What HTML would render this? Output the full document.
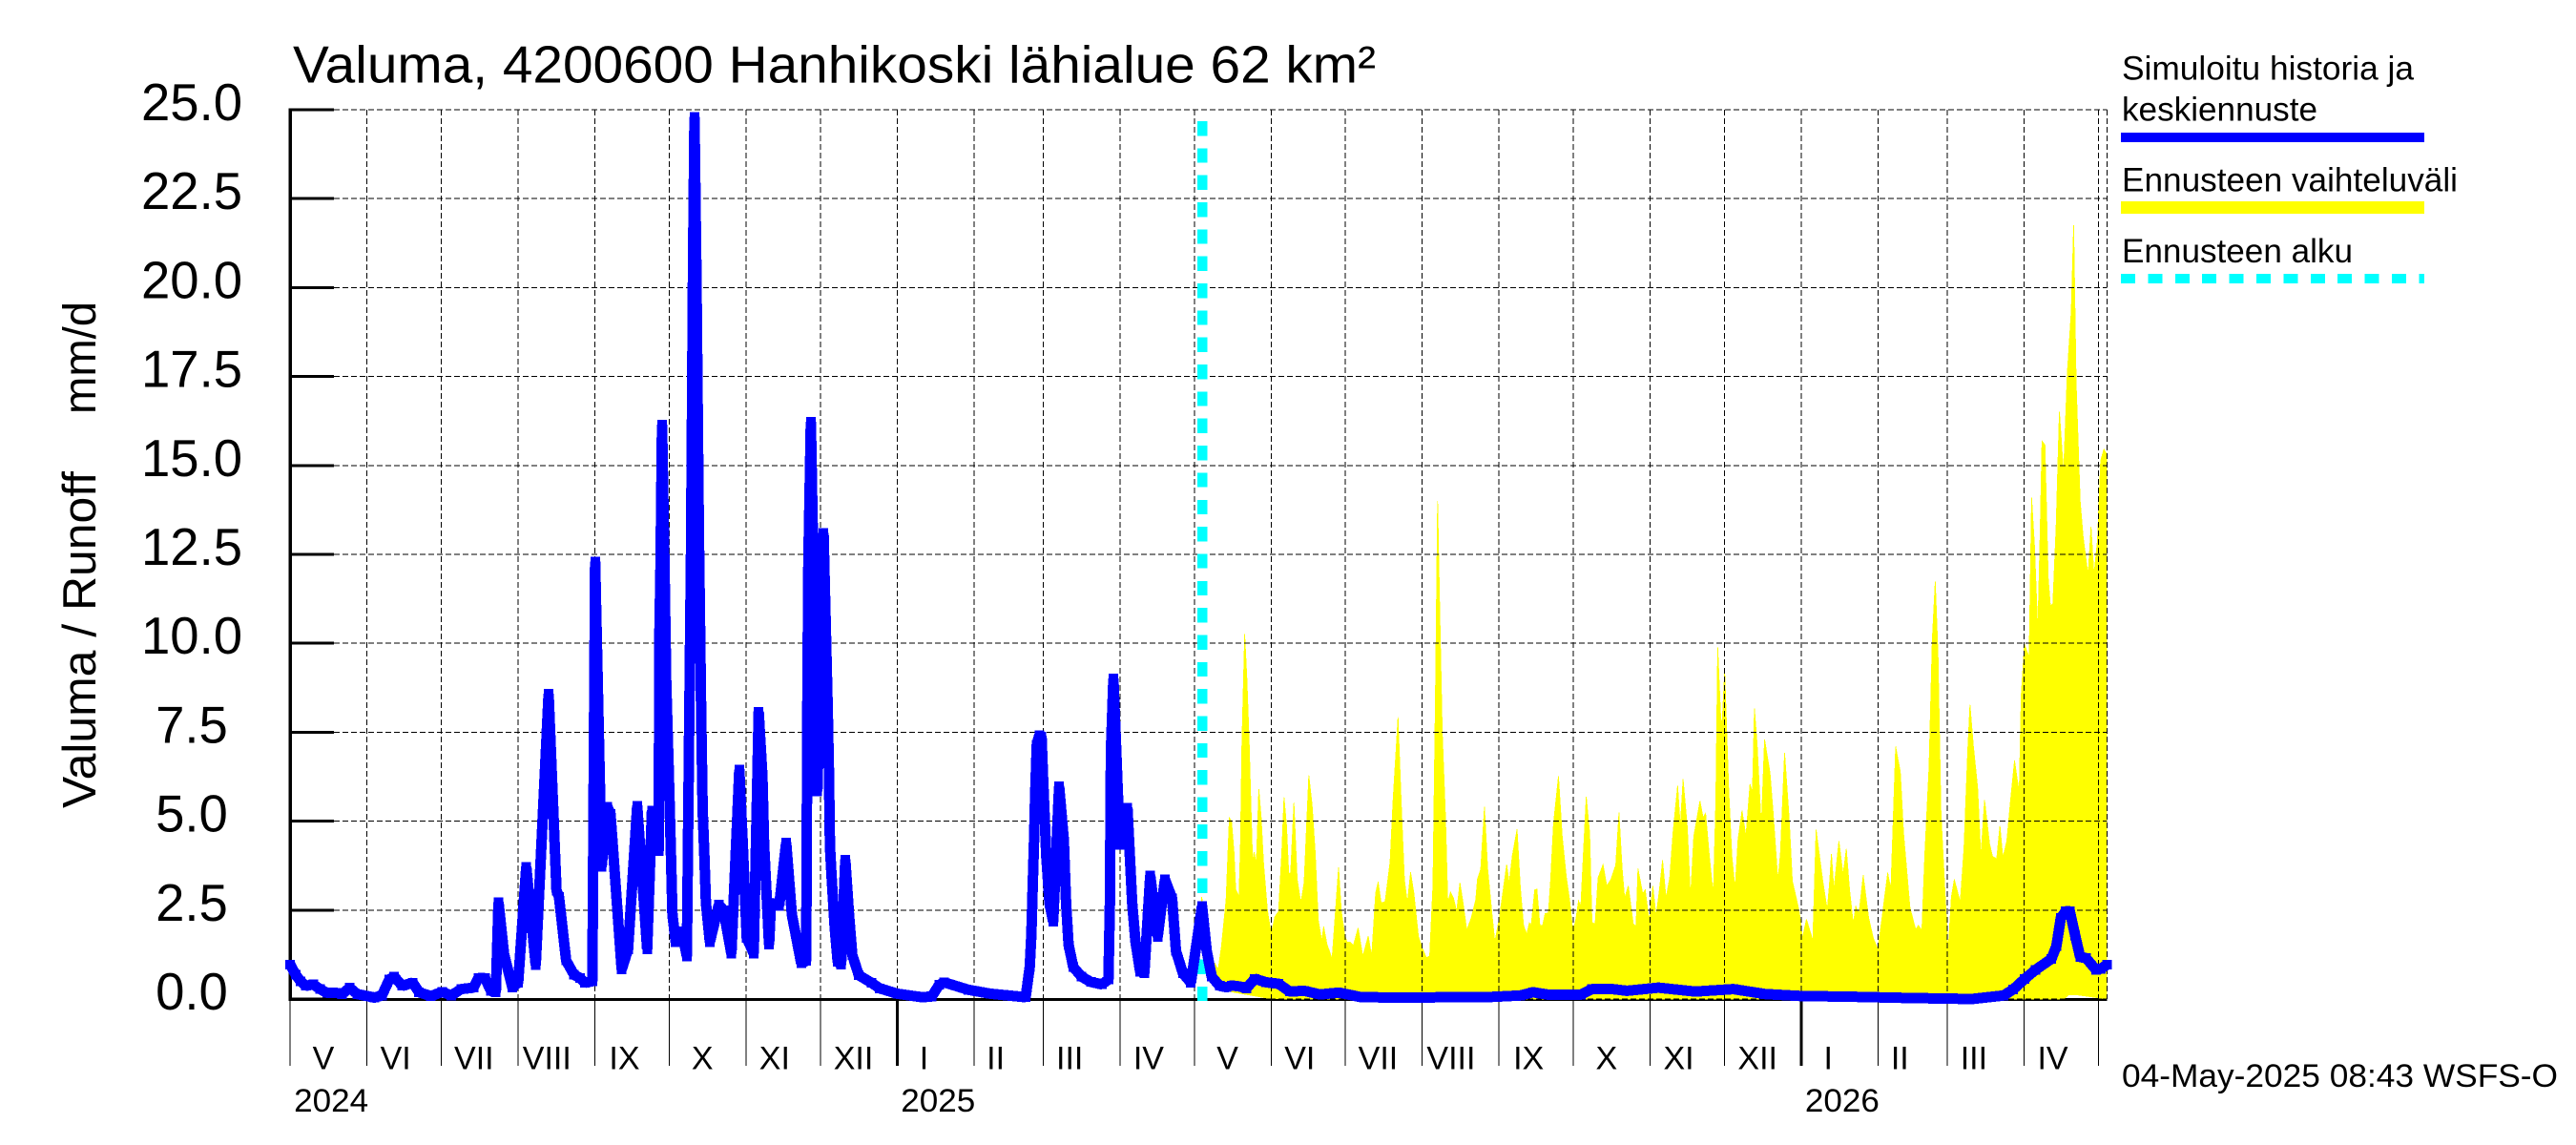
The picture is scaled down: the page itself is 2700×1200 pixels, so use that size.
<!DOCTYPE html>
<html lang="fi">
<head>
<meta charset="utf-8">
<title>Valuma, 4200600 Hanhikoski lähialue 62 km²</title>
<style>
html,body{margin:0;padding:0;background:#fff;}
svg{display:block;}
text{font-family:"Liberation Sans",Arial,sans-serif;fill:#000;}
</style>
</head>
<body>
<svg id="chart" xmlns="http://www.w3.org/2000/svg" width="2700" height="1200" viewBox="0 0 2700 1200">
  <rect x="0" y="0" width="2700" height="1200" fill="#fff"/>
  <text x="307" y="86.5" font-size="55" textLength="1135" lengthAdjust="spacingAndGlyphs">Valuma, 4200600 Hanhikoski lähialue 62 km²</text>
  <g transform="translate(100,847) rotate(-90)">
    <text x="0" y="0" font-size="49" textLength="353" lengthAdjust="spacingAndGlyphs">Valuma / Runoff</text>
    <text x="413" y="0" font-size="48" textLength="118" lengthAdjust="spacingAndGlyphs">mm/d</text>
  </g>
  <g id="axes-under"></g>
  <g id="forecast"></g>
  <g id="grid"></g>
  <g id="start"></g>
  <g id="axes-over"></g>
  <g id="series"></g>
  <g id="labels"></g>

  <g>
    <text x="2224" y="83.4" font-size="35" textLength="306" lengthAdjust="spacingAndGlyphs">Simuloitu historia ja</text>
    <text x="2224" y="126.3" font-size="35" textLength="205" lengthAdjust="spacingAndGlyphs">keskiennuste</text>
    <rect x="2223" y="139" width="318" height="10" fill="#0000ff"/>
    <text x="2224" y="200.5" font-size="35" textLength="352" lengthAdjust="spacingAndGlyphs">Ennusteen vaihteluväli</text>
    <rect x="2223" y="211" width="318" height="13" fill="#ffff00"/>
    <text x="2224" y="274.8" font-size="35" textLength="242" lengthAdjust="spacingAndGlyphs">Ennusteen alku</text>
    <line x1="2223" y1="292" x2="2541" y2="292" stroke="#00ffff" stroke-width="10" stroke-dasharray="15 13.4" shape-rendering="crispEdges"/>
  </g>
  <text x="2224" y="1138.8" font-size="34" textLength="457" lengthAdjust="spacingAndGlyphs">04-May-2025 08:43 WSFS-O</text>
</svg>
<script>
// ---- Data (days since 2024-05-01) ----
const yTickValues = [0, 2.5, 5, 7.5, 10, 12.5, 15, 17.5, 20, 22.5, 25];
const monthStartDays = [0,31,61,92,123,153,184,214,245,276,304,335,365,396,426,457,488,518,549,579,610,641,669,700,730];
const monthLabels = ["V","VI","VII","VIII","IX","X","XI","XII","I","II","III","IV","V","VI","VII","VIII","IX","X","XI","XII","I","II","III","IV"];
const yearStartDays = [0,245,610];
const yearLabels = ["2024","2025","2026"];
const forecastStartDay = 368.2;
const lastDay = 733.4;

const runoffDays = [
0,2.2,4.2,6.3,9.3,12,15,19,21,24,27,34,37,40,42,45.2,49.5,52,56.8,61.3,65,69,74,76,78.6,81,83,84.1,86.3,89.7,92,95.3,99.1,104.3,107.5,108.5,111.4,114.6,117,119,122,
123.1,125.7,128,129.3,133.8,136.4,140.1,144.1,146,148.8,149,149.5,150.1,151.1,151.8,152.8,153.7,154.3,155.6,158.2,160.1,161,161.8,162.6,163.2,164,165,165.9,166.5,167.2,167.8,169.4,
173,174.9,178.1,181.3,182.6,184.3,187.1,189.1,190.6,191.3,193.3,194.1,197.4,200.2,202.5,206.3,208.3,208.8,209.2,210.2,212.8,215.3,216.2,217,217.5,217.9,218.5,219.8,221,222.4,224.1,225.6,226.9,229.5,234.6,238,245,
255,259,262,264,273.7,282.6,296.9,298.55,299.2,299.8,300.35,300.7,301.4,302.4,303.3,303.9,305.2,306.5,308,310.4,312.3,313.2,314.2,316.1,319.4,323.2,327.7,330.3,330.9,331.3,332.3,333.5,334.1,335,338,339.9,341.2,343.1,344.8,347.2,350.2,353.1,356,357.6,360.4,363.6,368.1,370,372,
375.2,378,380,383.6,386,389.4,393.9,399,403.5,409.3,415.7,423.4,432.4,450,470,485,496.6,501.7,508,521,525.5,533.8,539.6,552.4,567.2,582.6,595.4,610.9,626.3,653,678.9,691.7,695.6,700.1,704.6,711,713,714.8,716.8,718.4,720.6,722.6,725,729,730.9,733.4
];
const runoffValues = [
0.97,0.68,0.5,0.37,0.41,0.28,0.17,0.17,0.14,0.32,0.14,0.04,0.1,0.55,0.63,0.37,0.46,0.19,0.08,0.2,0.1,0.28,0.32,0.59,0.59,0.23,0.19,2.72,1.26,0.32,0.46,3.72,0.95,8.58,3.05,2.87,1.08,0.68,0.59,0.46,0.5,
12.3,3.72,5.41,5.2,0.83,1.4,5.43,1.4,5.3,4.16,10,12.13,16.15,12.13,8.88,6.44,4,2.37,1.6,1.9,1.2,7.25,12.6,20.7,24.8,20.26,12.94,8.07,5.3,4,2.7,1.6,
2.65,2.5,1.27,6.45,4.49,1.72,1.28,8.08,6.28,4.33,1.53,2.7,2.62,4.4,2.37,1,1.07,8.62,12.3,16.23,5.84,13.1,10.5,8.1,6.3,4.3,3.5,2,1.05,0.96,3.92,2.37,1.24,0.67,0.46,0.3,0.15,
0.05,0.07,0.4,0.47,0.26,0.15,0.05,0.9,1.8,3.33,4.62,5.65,7.15,7.42,7.38,6.27,4.03,2.69,2.17,5.98,4.48,2.69,1.53,0.9,0.63,0.48,0.41,0.55,2.69,6.98,9.01,6.89,5.82,4.33,5.38,2.69,1.62,0.77,0.72,3.48,1.75,3.36,2.83,1.35,0.72,0.46,2.62,1.35,0.63,
0.37,0.33,0.38,0.35,0.3,0.57,0.47,0.43,0.21,0.23,0.13,0.18,0.05,0.04,0.05,0.06,0.1,0.19,0.12,0.12,0.28,0.28,0.23,0.32,0.21,0.28,0.14,0.08,0.07,0.03,0,0.1,0.27,0.56,0.82,1.13,1.49,2.28,2.47,2.47,1.78,1.18,1.15,0.82,0.85,0.96
];

const upperDays = [
368,371.4,373.3,374.6,375.9,377.8,379.1,380,381,381.7,383,383.6,384.2,385.3,386.2,387.1,387.8,388.5,389.1,390,391,392,392.9,394.5,396,397.5,399,400.3,401.2,402.2,403.1,403.9,405.2,406.5,408,409.3,411.2,412.5,413.8,415,416.4,417.2,418.5,420.6,421.9,423.2,424.3,425.6,426.6,427.9,429.2,431.1,433,435.2,436.6,438.2,439.2,440.4,442,444,445.2,447.2,448.5,449.8,451,452.3,453.6,455.5,457.2,458.7,460,461.3,462.3,463.2,464.1,465.1,466.4,467.3,468.4,469.6,470.9,472.2,473.5,475,476.7,478.6,479.3,480.6,482.1,483.4,485,486.3,488.2,489.5,491.1,492.1,493.4,
495.3,496.6,497.9,499.2,500.2,501,502.4,503.3,504.5,505.6,506.6,507.9,508.8,510,512,513.5,515.2,516.5,517.8,519,520.1,521,522,523.2,524.6,525.5,526.8,528,530,531.5,533.2,535.1,536.4,537.7,538.7,540.2,542.2,543.3,544.1,546,547,548.6,550.1,551.4,552.7,554,555.4,556.9,558.2,560.1,561.2,562.3,564,565.3,566.6,569.1,570.4,571.4,573,574.5,575.5,576.3,577.5,578.1,579.1,580.7,582,583.3,584.5,586.1,587.7,589.3,590.3,591.1,592.2,593.9,595.2,597.4,598.7,600.6,601.6,603.3,605.1,606.4,608,609.3,610.5,612.1,614.7,
616,618.6,620.5,621.4,622.2,623.2,625.2,626.9,628.2,629.5,631,632,633.3,635,637.2,639.1,641,643,644.9,646.2,648.1,650,651.3,653.9,656.2,657.3,658.7,659.9,661.6,662.9,664.1,665.2,666.4,668,669.3,670.6,671.8,674.2,675.7,677.2,678.1,679.5,681.2,682.5,684,686,687.2,688.9,690.2,691.4,693,694.6,696.1,698,698.8,700.1,702,703,704.2,705.5,706.5,707.2,708.4,709.7,710.6,711.6,712.9,714.2,715.9,717.4,719,720,721,722.6,723.8,725.8,727,728.2,729.6,730.9,732.2,733.4
];
const upperValues = [
2.87,1.07,1,0.83,1.45,2.79,5.09,5,4.13,3.08,2.89,4.23,7.2,10.26,9,7.3,5.57,3.85,4.13,3.8,5.9,5.09,3.85,2.5,1.84,2.31,2.46,4.13,5.67,4.9,3.51,3.56,5.52,3.37,2.7,3.27,6.29,5.47,4.13,2.22,1.64,2.03,1.55,1.12,2.41,3.7,2.5,1.84,1.6,1.6,1.5,2,1.2,1.77,1.2,2.98,3.29,2.7,2.74,3.85,5.57,7.92,5.57,3.37,2.7,3.56,2.98,1.74,1.4,1.16,1.21,3.18,8.44,14,10.84,7.49,5.09,2.7,3,2.84,2.46,3.27,2.7,1.93,2.27,2.79,3.37,3.65,5.4,3.65,2.5,1.6,2.31,2.98,3.78,3.27,4.04,
4.77,3.14,2.07,1.82,2.14,2.07,3.07,3.09,2.07,2.07,2.4,2.42,3.32,4.93,6.27,4.57,3.41,2.78,1.89,2.24,2.76,2.6,4.03,5.69,4.66,2.15,2.11,3.41,3.78,3.18,3.36,3.76,5.24,3.67,2.83,3.18,2.11,2.05,3.67,2.96,3.07,2.2,3.18,2.33,3.05,3.9,2.83,3.41,4.66,6,4.84,6.18,4.84,2.83,4.57,5.57,5.1,5.22,3.94,2.91,5.55,9.89,7.88,7.79,9.22,5.91,4.03,3.09,4.48,5.3,4.57,6.04,5.82,8.17,7.16,4.84,7.3,6.36,5.2,3.32,4.08,6.92,5.1,3.32,2.83,2.42,1.71,2.24,1.65,
4.76,3.36,2.5,3.22,4.08,3.07,4.44,3.5,4.22,3.07,2.11,2.61,2.39,3.48,2.28,1.71,1.39,2.5,3.55,3.07,7.1,6.38,4.66,2.57,1.95,2.07,1.93,4.08,6.52,10.1,11.74,9.68,5.23,3.07,1.35,2.86,3.36,2.72,4.22,6.95,8.28,7.1,5.95,4.01,5.59,4.37,4.01,3.94,4.87,3.97,4.44,5.66,6.7,5.8,8.53,9.97,9.61,14.1,12.7,10.33,13.28,15.69,15.57,11.84,11.05,11.12,13.28,16.51,14.78,17.59,19.31,21.75,17.3,14,13,11.91,13.28,11.91,12.92,15.14,15.46,15.3
];
const lowerDays = [368,370,374,380,394,400,716,718,721,733.4];
const lowerValues = [2.6,1,0.45,0.2,0.03,0,0,0.12,0.12,0];

// ---- Axis functions ----
const PLOT_LEFT = 304.2, PX_PER_DAY = 2.5963, Y_ZERO = 1047, PX_PER_UNIT = 37.28;
function xAt(day) { return PLOT_LEFT + day * PX_PER_DAY; }
function yAt(value) { return Y_ZERO - value * PX_PER_UNIT; }
const PLOT_RIGHT = xAt(lastDay), PLOT_TOP = yAt(25);
const SVG_NS = "http://www.w3.org/2000/svg";
const MONTH_LABEL_SHIFT = {V:-5.5, VI:-9, VII:-6, VIII:-10, IX:-8, X:-5.5, XI:-9, XII:-5.5, I:-12, II:-13.5, III:-12.5, IV:-9};

function make(tag, parentId, attrs) {
  const el = document.createElementNS(SVG_NS, tag);
  for (const k in attrs) el.setAttribute(k, attrs[k]);
  document.getElementById(parentId).appendChild(el);
  return el;
}
function pts(days, values) {
  return days.map(function (d, i) { return xAt(d).toFixed(1) + "," + yAt(values[i]).toFixed(1); });
}

// Bottom axis drawn first; the forecast band covers it
{
  const el = make("line", "axes-under", {x1: PLOT_LEFT - 1.5, y1: Y_ZERO + 0.5, x2: PLOT_RIGHT, y2: Y_ZERO + 0.5, stroke: "#000", "stroke-width": 3.4, "shape-rendering": "crispEdges"});
  
  
}

// Forecast range band
{
  const top = pts(upperDays, upperValues);
  const bottom = pts(lowerDays, lowerValues).reverse();
  const el = make("polygon", "forecast", {points: top.concat(bottom).join(" "), fill: "#ffff00", stroke: "#ffff00", "stroke-width": 0.8, "shape-rendering": "crispEdges"});
  
  
}

// Gridlines
yTickValues.forEach(function (v) {
  const el = make("line", "grid", {x1: 350, y1: yAt(v), x2: PLOT_RIGHT, y2: yAt(v), stroke: "#000", "stroke-width": 1, "stroke-dasharray": "6 3", "shape-rendering": "crispEdges"});
  
  
});
monthStartDays.concat([lastDay]).forEach(function (d) {
  if (d === 0) return;
  const el = make("line", "grid", {x1: xAt(d), y1: PLOT_TOP, x2: xAt(d), y2: Y_ZERO, stroke: "#000", "stroke-width": 1, "stroke-dasharray": "6 3", "shape-rendering": "crispEdges"});
  
  
});

// Forecast start marker
{
  const el = make("line", "start", {x1: xAt(forecastStartDay), y1: 127, x2: xAt(forecastStartDay), y2: 1049.5, stroke: "#00ffff", "stroke-width": 10.4, "stroke-dasharray": "15.3 13.04", "shape-rendering": "crispEdges"});
  
  
}

// Left axis, ticks
{
  const el = make("line", "axes-over", {x1: PLOT_LEFT, y1: PLOT_TOP - 1.5, x2: PLOT_LEFT, y2: Y_ZERO + 2, stroke: "#000", "stroke-width": 3.4, "shape-rendering": "crispEdges"});
  
  
}
yTickValues.forEach(function (v) {
  const el = make("line", "axes-over", {x1: PLOT_LEFT, y1: yAt(v), x2: 350, y2: yAt(v), stroke: "#000", "stroke-width": 3, "shape-rendering": "crispEdges"});
  
  
});
monthStartDays.forEach(function (d) {
  const isYear = yearStartDays.indexOf(d) > 0;
  const el = make("line", "axes-over", {x1: xAt(d), y1: Y_ZERO, x2: xAt(d), y2: 1117, stroke: "#000", "stroke-width": isYear ? 3 : 1, "shape-rendering": "crispEdges"});
  
  
});

// Runoff line: thick stroke plus a square brush at every vertex
{
  const p = pts(runoffDays, runoffValues);
  const el = make("polyline", "series", {points: p.join(" "), fill: "none", stroke: "#0000ff", "stroke-width": 11, "stroke-linejoin": "bevel", "shape-rendering": "crispEdges"});
  
  
  const d = runoffDays.map(function (day, i) {
    return "M" + (xAt(day) - 5).toFixed(1) + " " + (yAt(runoffValues[i]) - 5).toFixed(1) + "h10v10h-10z";
  }).join("");
  const brush = make("path", "series", {d: d, fill: "#0000ff", "shape-rendering": "crispEdges"});
  
  
}

// Labels
yTickValues.forEach(function (v) {
  const el = make("text", "labels", {x: 201, y: yAt(v) + 11, "font-size": 54.5, "text-anchor": "middle"});
  
  
  el.textContent = v.toFixed(1);
});
monthLabels.forEach(function (label, i) {
  const mid = (xAt(monthStartDays[i]) + xAt(monthStartDays[i + 1])) / 2;
  const el = make("text", "labels", {x: mid + MONTH_LABEL_SHIFT[label], y: 1120.5, "font-size": 34, "text-anchor": "middle"});
  
  
  el.textContent = label;
});
yearLabels.forEach(function (label, i) {
  const el = make("text", "labels", {x: xAt(yearStartDays[i]) + 4, y: 1165, "font-size": 34, textLength: 78, lengthAdjust: "spacingAndGlyphs"});
  
  
  el.textContent = label;
});
</script>
</body>
</html>
